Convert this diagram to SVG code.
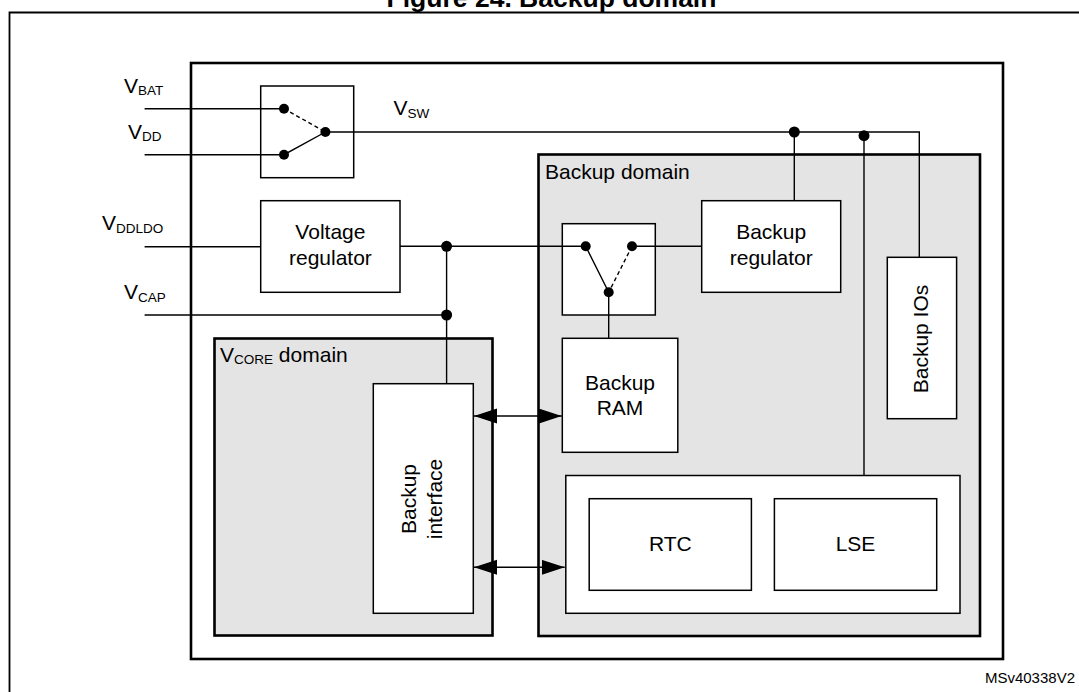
<svg xmlns="http://www.w3.org/2000/svg" width="1079" height="692" viewBox="0 0 1079 692">
<defs>
<style>
text{font-family:"Liberation Sans",Arial,sans-serif;fill:#000}
.lbl{font-size:21px}
.sub{font-size:13.5px}
.ttl{font-size:26.5px;font-weight:bold}
.note{font-size:15px}
.thick{fill:none;stroke:#000;stroke-width:2.6}
.gray{fill:#e4e4e4;stroke:#000;stroke-width:2.6}
.box{fill:#fff;stroke:#000;stroke-width:1.5}
.wire{fill:none;stroke:#000;stroke-width:1.4}
.dash{fill:none;stroke:#000;stroke-width:1.4;stroke-dasharray:4 3}
.dot{fill:#000}
</style>
<marker id="ah" markerUnits="userSpaceOnUse" markerWidth="24" markerHeight="16" refX="23" refY="7.5" orient="auto-start-reverse" viewBox="0 0 24 16">
<path d="M0,0 L23,7.5 L0,15 z" fill="#000"/>
</marker>
</defs>
<rect width="1079" height="692" fill="#fff"/>
<text class="ttl" x="551.5" y="7" text-anchor="middle">Figure 24. Backup domain</text>
<path d="M9.5,692 V12.5 H1079" fill="none" stroke="#000" stroke-width="1.8"/>

<g id="chip"><rect class="thick" x="191" y="63" width="812" height="596"/></g>

<g id="backup-domain">
<rect class="gray" x="538.5" y="154.5" width="441.5" height="481.5"/>
<text class="lbl" x="545" y="179">Backup domain</text>
</g>

<g id="vcore-domain">
<rect class="gray" x="214.5" y="338.5" width="278" height="297"/>
<text class="lbl" x="220" y="362.3">V<tspan class="sub" dy="2">CORE</tspan><tspan dy="-2"> domain</tspan></text>
</g>

<g id="labels">
<text class="lbl" x="124" y="92.7">V<tspan class="sub" dy="2.7">BAT</tspan></text>
<text class="lbl" x="128" y="138.7">V<tspan class="sub" dy="2.7">DD</tspan></text>
<text class="lbl" x="102" y="230">V<tspan class="sub" dy="2.7">DDLDO</tspan></text>
<text class="lbl" x="124" y="299">V<tspan class="sub" dy="2.7">CAP</tspan></text>
<text class="lbl" x="393.6" y="115">V<tspan class="sub" dy="3">SW</tspan></text>
</g>

<g id="supply-switch"><rect class="box" x="260.7" y="86" width="93" height="91.7"/></g>

<g id="voltage-regulator">
<rect class="box" x="260.7" y="200.7" width="139.3" height="91.6"/>
<text class="lbl" x="330.4" y="239" text-anchor="middle">Voltage</text>
<text class="lbl" x="330.4" y="265" text-anchor="middle">regulator</text>
</g>

<g id="backup-regulator">
<rect class="box" x="701.7" y="200.7" width="139" height="91.6"/>
<text class="lbl" x="771.2" y="239" text-anchor="middle">Backup</text>
<text class="lbl" x="771.2" y="265" text-anchor="middle">regulator</text>
</g>

<g id="ram-switch"><rect class="box" x="562.3" y="223.7" width="93" height="91.3"/></g>

<g id="backup-ram">
<rect class="box" x="562.3" y="338.3" width="115.5" height="114"/>
<text class="lbl" x="620" y="390" text-anchor="middle">Backup</text>
<text class="lbl" x="620" y="415" text-anchor="middle">RAM</text>
</g>

<g id="backup-ios">
<rect class="box" x="887.3" y="257.3" width="69.3" height="161.4"/>
<g transform="translate(0,339) rotate(-90)"><text class="lbl" x="0" y="928" text-anchor="middle">Backup IOs</text></g>
</g>

<g id="backup-interface">
<rect class="box" x="373.3" y="383.7" width="100" height="229.6"/>
<g transform="translate(0,499) rotate(-90)">
<text class="lbl" x="0" y="416" text-anchor="middle">Backup</text>
<text class="lbl" x="0" y="442" text-anchor="middle">interface</text>
</g>
</g>

<g id="rtc-lse-block"><rect class="box" x="565.8" y="475.5" width="394.2" height="137.8"/></g>

<g id="rtc">
<rect class="box" x="589.2" y="498.7" width="162.2" height="91.6"/>
<text class="lbl" x="670.3" y="550.7" text-anchor="middle">RTC</text>
</g>

<g id="lse">
<rect class="box" x="774.4" y="498.7" width="162.3" height="91.6"/>
<text class="lbl" x="855.5" y="550.7" text-anchor="middle">LSE</text>
</g>

<g id="connectors">
<path class="wire" d="M144.6,108.7 H284"/>
<path class="wire" d="M144.6,154.7 H284 L325.4,132"/>
<path class="dash" d="M284,108.7 L325.4,132"/>
<path class="wire" d="M325.4,132 H919.3 V257.3"/>
<path class="wire" d="M794.3,132 V200.7"/>
<path class="wire" d="M864,135.7 V475.5"/>
<path class="wire" d="M144.6,246.7 H260.7"/>
<path class="wire" d="M400,246.3 H585.7 L608.7,292.3"/>
<path class="dash" d="M632,246.3 L608.7,292.3"/>
<path class="wire" d="M632,246.3 H701.7"/>
<path class="wire" d="M608.7,292.3 V338.3"/>
<path class="wire" d="M144.6,315 H446.6"/>
<path class="wire" d="M446.6,246.3 V383.7"/>
<path class="wire" d="M474,416 H561.7" marker-start="url(#ah)" marker-end="url(#ah)"/>
<path class="wire" d="M474,567.3 H564.7" marker-start="url(#ah)" marker-end="url(#ah)"/>
<circle class="dot" cx="284" cy="108.7" r="5"/>
<circle class="dot" cx="284" cy="154.7" r="5"/>
<circle class="dot" cx="325.4" cy="132" r="5"/>
<circle class="dot" cx="794.3" cy="132" r="5.5"/>
<circle class="dot" cx="864" cy="135.7" r="5.5"/>
<circle class="dot" cx="446.6" cy="246.3" r="5.5"/>
<circle class="dot" cx="446.6" cy="315" r="5.5"/>
<circle class="dot" cx="585.7" cy="246.3" r="5"/>
<circle class="dot" cx="632" cy="246.3" r="5"/>
<circle class="dot" cx="608.7" cy="292.3" r="5"/>
</g>

<text class="note" x="1075" y="683.3" text-anchor="end">MSv40338V2</text>
</svg>
